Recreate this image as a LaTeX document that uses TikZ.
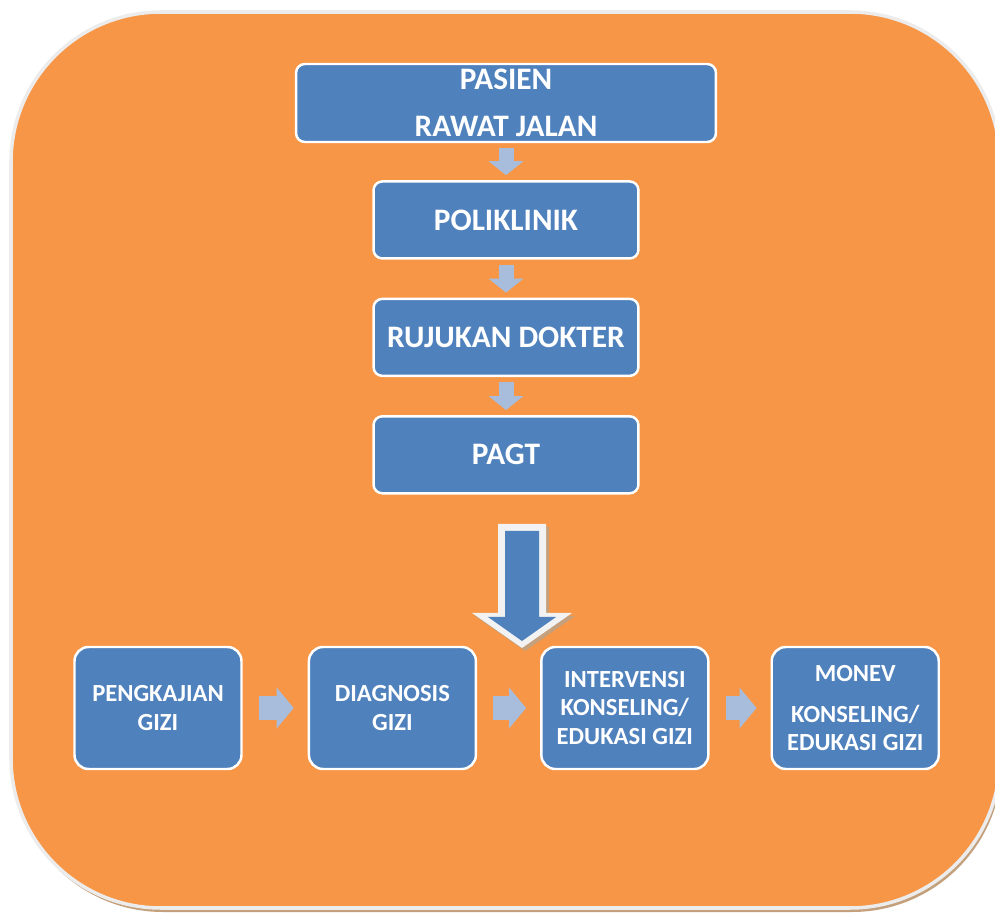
\documentclass[tikz,border=0pt]{standalone}
\usepackage{fontspec}
\setmainfont{Carlito}
\usepackage{tikz}
\usepackage{xcolor}
\usetikzlibrary{positioning, arrows.meta}
\definecolor{pgorange}{RGB}{247,150,70}
\definecolor{pgblue}{RGB}{79,129,189}
\definecolor{pglight}{RGB}{167,189,219}
\definecolor{pgrim}{RGB}{236,236,236}
\definecolor{pgshade}{RGB}{196,160,125}
\tikzset{
    flowbox/.style={rectangle, draw=white, line width=1.4pt, fill=pgblue, text=white, align=center, inner sep=0pt},
    topbox/.style={flowbox, rounded corners=5pt, minimum width=5.3cm, minimum height=1.54cm, font=\fontsize{17.8}{20.5}\selectfont\bfseries},
    rowbox/.style={flowbox, rounded corners=8pt, minimum width=3.34cm, minimum height=2.44cm, font=\fontsize{14}{16}\selectfont\bfseries},
    vflow/.style={draw=pglight, line width=0.3cm, -{Triangle[width=0.68cm, length=0.28cm]}, shorten <=0.1cm, shorten >=0.1cm},
    hflow/.style={draw=pglight, line width=0.5cm, -{Triangle[width=0.8cm, length=0.34cm]}, shorten <=0.32cm, shorten >=0.28cm}
}

\begin{document}
\begin{tikzpicture}[x=0.02cm, y=-0.02cm]
\useasboundingbox (0,0) rectangle (995,915);
% background panel
\fill[pgshade, rounded corners=3cm] (13,16) rectangle (1002,912);
\filldraw[fill=pgorange, draw=pgrim, line width=2pt, rounded corners=3cm] (11,12) rectangle (1000,908);

% upper column
\node[topbox, minimum width=8.4cm, minimum height=1.56cm] (pasien) at (506,103) {PASIEN\\[6pt]RAWAT JALAN};
\node[topbox, below=0.74cm of pasien] (poli) {POLIKLINIK};
\node[topbox, below=0.76cm of poli] (rujukan) {RUJUKAN DOKTER};
\node[topbox, below=0.76cm of rujukan] (pagt) {PAGT};

\draw[vflow] (pasien) -- (poli);
\draw[vflow] (poli) -- (rujukan);
\draw[vflow] (rujukan) -- (pagt);

% big arrow
\fill[pgshade] (501,527) -- (549,527) -- (549,616) -- (575,616) -- (525,651) -- (475,616) -- (501,616) -- cycle;
\fill[white!95!black] (498,524) -- (546,524) -- (546,613) -- (572,613) -- (522,648) -- (472,613) -- (498,613) -- cycle;
\fill[pgblue] (505,531) -- (539,531) -- (539,617) -- (556,617) -- (522,641) -- (488,617) -- (505,617) -- cycle;

% lower row
\node[rowbox] (kaji) at (158,708) {PENGKAJIAN\\GIZI};
\node[rowbox, right=1.3cm of kaji] (diagnosis) {DIAGNOSIS\\GIZI};
\node[rowbox, right=1.26cm of diagnosis] (intervensi) {INTERVENSI\\KONSELING/\\EDUKASI GIZI};
\node[rowbox, right=1.22cm of intervensi] (monev) {MONEV\\[7pt]KONSELING/\\EDUKASI GIZI};

\draw[hflow] (kaji) -- (diagnosis);
\draw[hflow] (diagnosis) -- (intervensi);
\draw[hflow] (intervensi) -- (monev);
\end{tikzpicture}
\end{document}
